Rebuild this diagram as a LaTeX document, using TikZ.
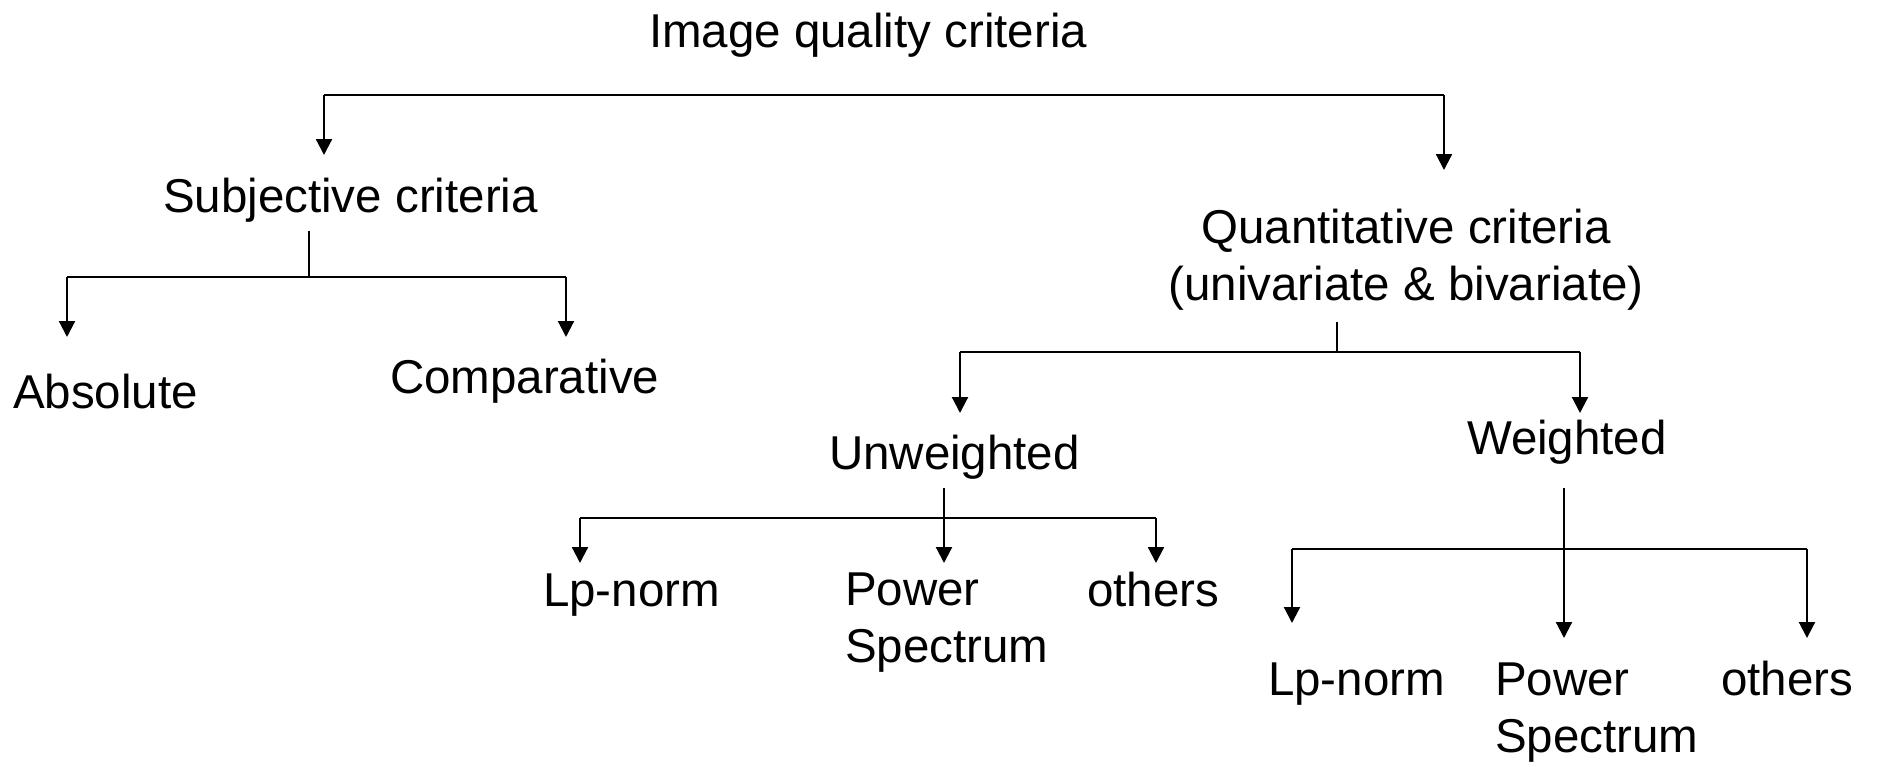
\documentclass[tikz,border=0pt]{standalone}
\usepackage{fontspec}
\setmainfont{Liberation Sans}
\usetikzlibrary{arrows.meta}
\tikzset{
  lbl/.style={inner sep=0pt, outer sep=0pt, anchor=base west, font=\fontsize{47.5}{57}\selectfont},
  wire/.style={line width=2.2pt, line cap=butt},
  arr/.style={wire, -{Triangle[width=16pt 0 0,length=16pt 0 0]}}
}
\begin{document}
\begin{tikzpicture}[x=1pt,y=-1pt]
\useasboundingbox (0,0) rectangle (1880,766);
% text nodes (multi-line nodes are anchored at the baseline of their last line)
\node[lbl] (title) at (649,47) {Image quality criteria};
\node[lbl] (subj) at (163,212) {Subjective criteria};
\node[lbl, anchor=base, align=center] (quant) at (1406,300) {Quantitative criteria\\(univariate \& bivariate)};
\node[lbl] (abs) at (13,408) {Absolute};
\node[lbl] (comp) at (390,393) {Comparative};
\node[lbl] (unw) at (829,469) {Unweighted};
\node[lbl] (wei) at (1467,454) {Weighted};
\node[lbl] (lpA) at (543,606) {Lp-norm};
\node[lbl, align=left] (psA) at (845,662) {Power\\Spectrum};
\node[lbl] (othA) at (1087,606) {others};
\node[lbl] (lpB) at (1268,695) {Lp-norm};
\node[lbl, align=left] (psB) at (1495,752) {Power\\Spectrum};
\node[lbl] (othB) at (1721,695) {others};
% junction coordinates
\coordinate (t1) at (324,95);
\coordinate (t2) at (1444,95);
\coordinate (subjTip) at (324,155);
\coordinate (quantTip) at (1444,170);
\coordinate (s0) at (309,231);
\coordinate (s1) at (309,277);
\coordinate (sL) at (67,277);
\coordinate (sR) at (566,277);
\coordinate (absTip) at (67,337);
\coordinate (compTip) at (566,337);
\coordinate (q0) at (1337,322);
\coordinate (q1) at (1337,352);
\coordinate (qL) at (960,352);
\coordinate (qR) at (1580,352);
\coordinate (unwTip) at (960,413);
\coordinate (weiTip) at (1580,413);
\coordinate (u0) at (944,488);
\coordinate (uL) at (580,518);
\coordinate (uR) at (1156,518);
\coordinate (lpATip) at (580,563);
\coordinate (psATip) at (944,563);
\coordinate (othATip) at (1156,563);
\coordinate (w0) at (1564,488);
\coordinate (wL) at (1292,549);
\coordinate (wR) at (1807,549);
\coordinate (lpBTip) at (1292,623);
\coordinate (psBTip) at (1564,638);
\coordinate (othBTip) at (1807,638);
% connectors
\draw[wire] (t1) -- (t2);
\draw[arr] (t1) -- (subjTip);
\draw[arr] (t2) -- (quantTip);
\draw[wire] (s0) -- (s1);
\draw[wire] (sL) -- (sR);
\draw[arr] (sL) -- (absTip);
\draw[arr] (sR) -- (compTip);
\draw[wire] (q0) -- (q1);
\draw[wire] (qL) -- (qR);
\draw[arr] (qL) -- (unwTip);
\draw[arr] (qR) -- (weiTip);
\draw[wire] (uL) -- (uR);
\draw[arr] (u0) -- (psATip);
\draw[arr] (uL) -- (lpATip);
\draw[arr] (uR) -- (othATip);
\draw[wire] (wL) -- (wR);
\draw[arr] (w0) -- (psBTip);
\draw[arr] (wL) -- (lpBTip);
\draw[arr] (wR) -- (othBTip);
\end{tikzpicture}
\end{document}
